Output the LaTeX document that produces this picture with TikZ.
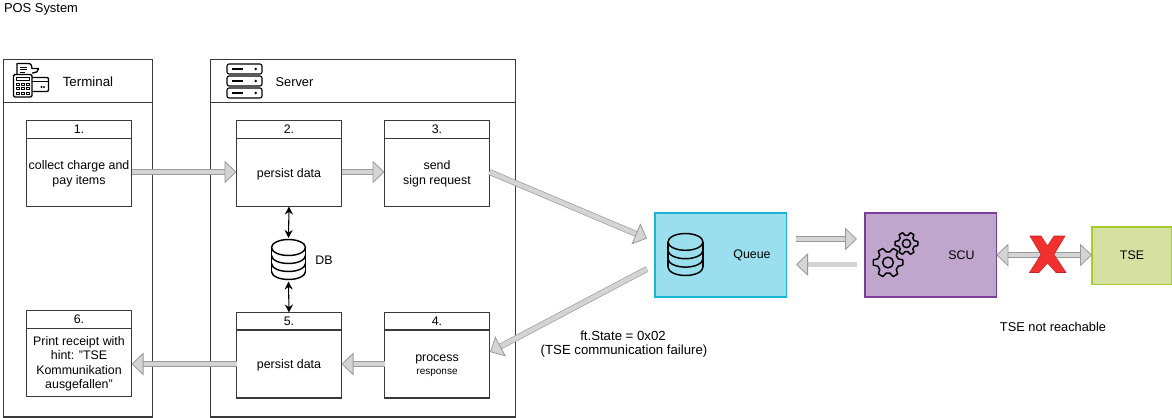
\documentclass[tikz,border=0pt]{standalone}
\usepackage{fontspec}
\setmainfont{Liberation Sans}
\usetikzlibrary{arrows.meta,shapes.geometric}
\definecolor{edge}{HTML}{3A3A3A}
\definecolor{afill}{HTML}{D4D4D4}
\definecolor{aedge}{HTML}{999999}
\definecolor{qfill}{HTML}{9BDFEF}
\definecolor{qedge}{HTML}{1BB3D6}
\definecolor{sfill}{HTML}{C0A6CC}
\definecolor{sedge}{HTML}{7B3F98}
\definecolor{tfill}{HTML}{D6E0A0}
\definecolor{tedge}{HTML}{A4CC2E}
\definecolor{xred}{HTML}{F23030}
\tikzset{
  x=0.75pt,y=-0.75pt,
  every node/.style={font=\fontsize{9.3}{10.8}\selectfont,align=center,inner sep=0pt,outer sep=0pt,text=black},
  lane/.style={draw=edge,line width=0.8pt},
  taskbox/.style={draw=edge,line width=0.8pt,minimum width=78.75pt,anchor=north west},
  tasktitle/.style={taskbox,minimum height=13.5pt},
  taskbody/.style={taskbox,minimum height=51pt},
  bodytext/.style={yshift=-1pt},
  notetext/.style={font=\fontsize{9.9}{11.5}\selectfont},
  system/.style={line width=1.2pt,anchor=north west},
  thick arrow/.style={draw=aedge,line width=0.5pt,double=afill,double distance=3.4pt,
    -{Triangle[length=9pt,width=17pt,fill=afill,color=aedge,line width=0.6pt]}},
  thick both/.style={draw=aedge,line width=0.5pt,double=afill,double distance=3.4pt,
    {Triangle[length=9pt,width=17pt,fill=afill,color=aedge,line width=0.6pt]}-{Triangle[length=9pt,width=17pt,fill=afill,color=aedge,line width=0.6pt]}},
  db link/.style={draw=black,line width=0.8pt,{Stealth[length=6pt,width=6pt]}-{Stealth[length=6pt,width=6pt]}},
  icon/.style={draw=black,line width=0.8pt,line join=round},
}
\newcommand{\dbicon}[4]{% cx, top, bottom, half width
  \pgfmathsetmacro{\dbry}{(#3-#2)*0.2}
  \pgfmathsetmacro{\dbstep}{(#3-#2-2*\dbry)/3}
  \draw[icon,line width=1.1pt] (#1,#2+\dbry) ellipse[x radius=#4,y radius=\dbry];
  \draw[icon,line width=1.1pt] (#1-#4,#2+\dbry) -- (#1-#4,#3-\dbry) (#1+#4,#2+\dbry) -- (#1+#4,#3-\dbry);
  \foreach \k in {1,2,3}{
    \draw[icon,line width=1.1pt] (#1-#4,#2+\dbry+\k*\dbstep) arc[start angle=180,end angle=0,x radius=#4,y radius=\dbry];
  }
}
\newcommand{\gearicon}[3]{% cx, cy, outer radius
  \pgfmathsetmacro{\ginner}{#3*0.72}
  \pgfmathsetmacro{\ghole}{#3*0.36}
  \draw[icon,line width=1.1pt] plot coordinates {
    ({#1+#3*cos(10)},{#2+#3*sin(10)}) ({#1+\ginner*cos(20)},{#2+\ginner*sin(20)}) ({#1+\ginner*cos(40)},{#2+\ginner*sin(40)})
    ({#1+#3*cos(50)},{#2+#3*sin(50)}) ({#1+#3*cos(70)},{#2+#3*sin(70)}) ({#1+\ginner*cos(80)},{#2+\ginner*sin(80)}) ({#1+\ginner*cos(100)},{#2+\ginner*sin(100)})
    ({#1+#3*cos(110)},{#2+#3*sin(110)}) ({#1+#3*cos(130)},{#2+#3*sin(130)}) ({#1+\ginner*cos(140)},{#2+\ginner*sin(140)}) ({#1+\ginner*cos(160)},{#2+\ginner*sin(160)})
    ({#1+#3*cos(170)},{#2+#3*sin(170)}) ({#1+#3*cos(190)},{#2+#3*sin(190)}) ({#1+\ginner*cos(200)},{#2+\ginner*sin(200)}) ({#1+\ginner*cos(220)},{#2+\ginner*sin(220)})
    ({#1+#3*cos(230)},{#2+#3*sin(230)}) ({#1+#3*cos(250)},{#2+#3*sin(250)}) ({#1+\ginner*cos(260)},{#2+\ginner*sin(260)}) ({#1+\ginner*cos(280)},{#2+\ginner*sin(280)})
    ({#1+#3*cos(290)},{#2+#3*sin(290)}) ({#1+#3*cos(310)},{#2+#3*sin(310)}) ({#1+\ginner*cos(320)},{#2+\ginner*sin(320)}) ({#1+\ginner*cos(340)},{#2+\ginner*sin(340)})
    ({#1+#3*cos(350)},{#2+#3*sin(350)}) ({#1+#3*cos(10)},{#2+#3*sin(10)})};
  \draw[icon,line width=1.1pt] (#1,#2) circle[radius=\ghole];
}
\begin{document}
\begin{tikzpicture}
\useasboundingbox (0,0) rectangle (1172,418);
\node[anchor=west,font=\fontsize{9.7}{11}\selectfont] (title) at (4,9.5) {POS System};

% lanes
\draw[lane] (3.5,59.5) rectangle (152.5,417);
\draw[lane] (3.5,102.5) -- (152.5,102.5);
\draw[lane] (210.5,59.5) rectangle (515.5,417);
\draw[lane] (210.5,102.5) -- (515.5,102.5);
\node[font=\fontsize{10}{11}\selectfont] (terminal) at (88,82) {Terminal};
\node[font=\fontsize{9.6}{11}\selectfont] (server) at (294.5,82) {Server};

% tasks
\node[tasktitle] (t1) at (26.5,120.5) {1.};
\node[taskbody] (b1) at (26.5,138.5) {};
\node[bodytext] (l1) at (b1.center) {collect charge and\\pay items};
\node[tasktitle] (t2) at (236.5,120.5) {2.};
\node[taskbody] (b2) at (236.5,138.5) {};
\node[bodytext] (l2) at (b2.center) {persist data};
\node[tasktitle] (t3) at (384.5,120.5) {3.};
\node[taskbody] (b3) at (384.5,138.5) {};
\node[bodytext] (l3) at (b3.center) {send\\sign request};
\node[tasktitle] (t6) at (26.5,310.5) {6.};
\node[taskbody] (b6) at (26.5,328.5) {};
\node[bodytext] (l6) at (b6.center) {Print receipt with\\hint: "TSE\\Kommunikation\\ausgefallen"};
\node[tasktitle] (t5) at (236.5,312.5) {5.};
\node[taskbody] (b5) at (236.5,330) {};
\node[bodytext] (l5) at (b5.center) {persist data};
\node[tasktitle] (t4) at (384.5,312.5) {4.};
\node[taskbody] (b4) at (384.5,330) {};
\node[bodytext] (l4) at (b4.center) {process\\[-1pt]{\fontsize{7.5}{9}\selectfont response}};

% right-hand systems
\node[system,draw=qedge,fill=qfill,minimum width=98.5pt,minimum height=63pt] (queue) at (655,213) {};
\node (queuelab) at (752,255) {Queue};
\node[system,draw=sedge,fill=sfill,minimum width=98.5pt,minimum height=63pt] (scu) at (865,213) {};
\node (sculab) at (961.5,255) {SCU};
\node[system,draw=tedge,fill=tfill,minimum width=60pt,minimum height=43pt] (tse) at (1092,227) {TSE};

% db
\coordinate (dbtop) at (288.5,238);
\coordinate (dbbot) at (288.5,281.5);
\dbicon{288.5}{239.5}{279.5}{17}
\node (dblab) at (324,260.5) {DB};
\dbicon{685.5}{233.5}{275.5}{17.5}

% connectors
\draw[db link] (b2.south) -- (dbtop);
\draw[db link] (dbbot) -- (t5.north);
\draw[thick arrow] (b1.east |- 0,172) -- (b2.west |- 0,172);
\draw[thick arrow] (b2.east |- 0,172) -- (b3.west |- 0,172);
\coordinate (q3) at (647,238.5);
\coordinate (s3) at (489.5,172);
\draw[thick arrow] (s3) -- (q3);
\coordinate (q4s) at (647,269);
\coordinate (t4e) at (490,352);
\draw[thick arrow] (q4s) -- (t4e);
\coordinate (qr1) at (796,239);
\coordinate (sl1) at (857,239);
\draw[thick arrow] (qr1) -- (sl1);
\coordinate (qr2) at (796,264.5);
\coordinate (sl2) at (857,264.5);
\draw[thick arrow] (sl2) -- (qr2);
\draw[thick both] (scu.east |- 0,255) -- (tse.west |- 0,255);
\draw[thick arrow] (b4.west |- 0,364) -- (b5.east |- 0,364);
\draw[thick arrow] (b5.west |- 0,364) -- (b6.east |- 0,364);

% red X
\fill[xred,draw=xred!80!black,line width=0.4pt] (1030,236) -- (1041,236) -- (1047.5,246) -- (1054,236) -- (1065,236)
  -- (1054,254.5) -- (1066,272.5) -- (1056,272.5) -- (1047.5,263) -- (1039,272.5) -- (1029.5,272.5) -- (1041,254.5) -- cycle;

% gears
\gearicon{888}{262.5}{15}
\gearicon{906.5}{243.5}{11.5}

% server icon
\foreach \yy in {64,76,88}{
  \draw[icon,rounded corners=1.5pt] (227,\yy) rectangle (262,\yy+10);
  \draw[icon] (231.5,\yy+5) -- (243,\yy+5);
  \fill (255.7,\yy+5) circle[radius=1.3];
}

% terminal icon
\draw[icon,rounded corners=1pt,line width=1pt] (13.5,74.5) -- (13.5,97) -- (32,97) -- (32,74.5) -- cycle;
\draw[icon,line width=1pt] (17,74) -- (17,63.5) -- (28,63.5) .. controls (31.5,63.5) and (32,66) .. (32,68.5) -- (38.5,68.5) .. controls (38.5,71.5) and (36,73) .. (33,73) -- (32,73);
\draw[icon,line width=0.7pt] (20,67) -- (27,67) (20,69.5) -- (27,69.5) (20,72) -- (25,72);
\draw[icon,line width=0.7pt] (16.5,77.5) rectangle (29.5,80);
\foreach \cx in {16.8,21.4,26}{\foreach \cy in {83,87.5,92}{
  \draw[icon,line width=0.7pt] (\cx,\cy) rectangle (\cx+3,\cy+2.4);
}}
\draw[icon,rounded corners=0.8pt,line width=1pt] (32,77.5) -- (48.5,77.5) -- (48.5,91.5) -- (32,91.5);
\draw[icon,line width=0.7pt] (32,81) -- (48.5,81);
\fill (41.5,87) circle[radius=1.2] (44,87) circle[radius=1.2];

% notes
\node[notetext] (note1) at (623,336) {ft.State = 0x02};
\node[notetext] (note2) at (624,351) {(TSE communication failure)};
\node[notetext,font=\fontsize{9.6}{11}\selectfont] (note3) at (1053,327) {TSE not reachable};
\end{tikzpicture}
\end{document}
